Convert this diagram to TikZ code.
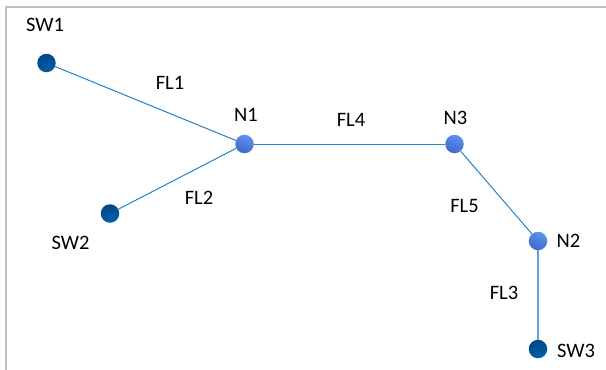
\documentclass[tikz,border=0pt]{standalone}
\usepackage{fontspec}
\setmainfont{Carlito}
\definecolor{frame}{RGB}{192,192,192}
\definecolor{linkc}{RGB}{40,130,200}
\definecolor{linklight}{RGB}{95,165,220}
\definecolor{swdark}{RGB}{0,70,135}
\definecolor{swlight}{RGB}{0,95,170}
\definecolor{ndark}{RGB}{60,105,200}
\definecolor{nlight}{RGB}{95,145,240}
\tikzset{
  labeltext/.style={inner sep=0pt,font=\fontsize{20.5}{23}\selectfont,text=black},
  swnode/.style={circle,inner sep=0pt,minimum size=18.5pt,shading=axis,left color=swdark,right color=swlight,shading angle=20,draw=none},
  netnode/.style={circle,inner sep=0pt,minimum size=18.5pt,shading=axis,left color=nlight,right color=ndark,shading angle=-20,draw=none},
  linkline/.style={draw=linkc,line width=1pt}
}
\begin{document}
\begin{tikzpicture}[x=1pt,y=-1pt]
\useasboundingbox (0,0) rectangle (606,370);
\fill[white] (0,0) rectangle (606,370);
\draw[frame,line width=2pt] (6,370) -- (6,7) -- (606,7);
\node[swnode] (sw1) at (46.5,63) {};
\node[swnode] (sw2) at (110,213.5) {};
\node[swnode] (sw3) at (538,349) {};
\node[netnode] (n1) at (244.5,144) {};
\node[netnode] (n3) at (454.5,144) {};
\node[netnode] (n2) at (538,241) {};
\draw[linkline] (sw1) -- (n1);
\draw[linkline] (sw2) -- (n1);
\draw[linkline] (n1) -- (n3);
\draw[linkline] (n3) -- (n2);
\draw[draw=linklight,line width=1.5pt] (n2) -- (sw3);
\node[labeltext] (tsw1) at (45,25) {SW1};
\node[labeltext] (tsw2) at (70.5,243) {SW2};
\node[labeltext] (tsw3) at (576,351) {SW3};
\node[labeltext] (tn1) at (246,115) {N1};
\node[labeltext] (tn3) at (455.5,118) {N3};
\node[labeltext] (tn2) at (568.5,241) {N2};
\node[labeltext] (tfl1) at (170,83) {FL1};
\node[labeltext] (tfl2) at (199,198) {FL2};
\node[labeltext] (tfl4) at (351,120) {FL4};
\node[labeltext] (tfl5) at (464.5,206) {FL5};
\node[labeltext] (tfl3) at (504,293) {FL3};
\end{tikzpicture}
\end{document}
